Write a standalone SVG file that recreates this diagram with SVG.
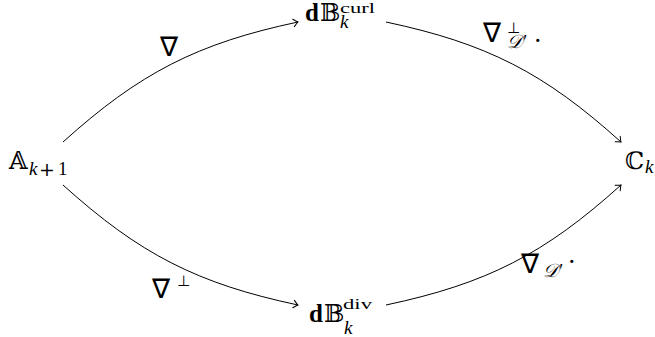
<svg xmlns="http://www.w3.org/2000/svg" width="655" height="337" viewBox="0 0 655 337">
<style>
.e{fill:none;stroke:#000;stroke-width:1}
.m{font-family:"DejaVu Serif","DejaVu Sans",serif;font-size:24px}
.n{font-family:"DejaVu Sans",sans-serif;font-size:27px}
.ms{font-family:"DejaVu Sans",sans-serif;font-size:15px}
.i{font-family:"Liberation Serif",serif;font-style:italic;font-size:19px}
.r{font-family:"Liberation Serif",serif;font-size:19px}
.p{font-family:"DejaVu Serif",serif;font-size:19px}
.sr{font-family:"Liberation Serif",serif;font-size:15px}
.b{font-family:"Liberation Serif",serif;font-weight:bold;font-size:25px}
</style>
<defs>
<marker id="to" markerWidth="10" markerHeight="10" viewBox="-6 -5 8 10" refX="0" refY="0" orient="auto" markerUnits="userSpaceOnUse">
<path d="M-4.5,-3.8 Q-1.5,-0.9 0,0 Q-1.5,0.9 -4.5,3.8" fill="none" stroke="#000" stroke-width="1" stroke-linecap="round"/>
</marker>
</defs>
<rect width="655" height="337" fill="#fff"/>
<g id="connectors">
<path class="e" d="M63,142 C139.5,73 197,43.4 298,22" marker-end="url(#to)"/>
<path class="e" d="M386,22 C487,43.4 544.5,73 621,142" marker-end="url(#to)"/>
<path class="e" d="M63,185 C139.5,254 197,283.6 298,305" marker-end="url(#to)"/>
<path class="e" d="M386,305 C487,283.6 544.5,254 621,185" marker-end="url(#to)"/>
</g>
<g id="A">
<text class="m" x="9" y="169">𝔸</text>
<text class="i" x="29" y="175">k</text>
<text class="p" x="39" y="176">+</text>
<text class="r" x="58" y="175">1</text>
</g>
<g id="Bcurl">
<text class="b" x="305" y="21">d</text>
<text class="m" x="320" y="21">𝔹</text>
<text class="sr" x="340" y="13" textLength="35" lengthAdjust="spacingAndGlyphs">curl</text>
<text class="i" x="340" y="28">k</text>
</g>
<g id="Bdiv">
<text class="b" x="309" y="322">d</text>
<text class="m" x="324" y="322">𝔹</text>
<text class="sr" x="343" y="309" textLength="29" lengthAdjust="spacingAndGlyphs">div</text>
<text class="i" x="344" y="334">k</text>
</g>
<g id="C">
<text class="m" x="625" y="169">ℂ</text>
<text class="i" x="645" y="173">k</text>
</g>
<g id="labels">
<text class="n" x="160" y="56">∇</text>
<text class="n" x="483" y="42">∇</text>
<text class="ms" x="507" y="33">⊥</text>
<text class="i" x="507" y="48">𝒟′</text>
<text class="m" x="534" y="49">·</text>
<text class="n" x="152" y="298">∇</text>
<text class="ms" x="177" y="286">⊥</text>
<text class="n" x="521" y="273">∇</text>
<text class="i" x="543" y="277">𝒟′</text>
<text class="m" x="568" y="270">·</text>
</g>
</svg>
